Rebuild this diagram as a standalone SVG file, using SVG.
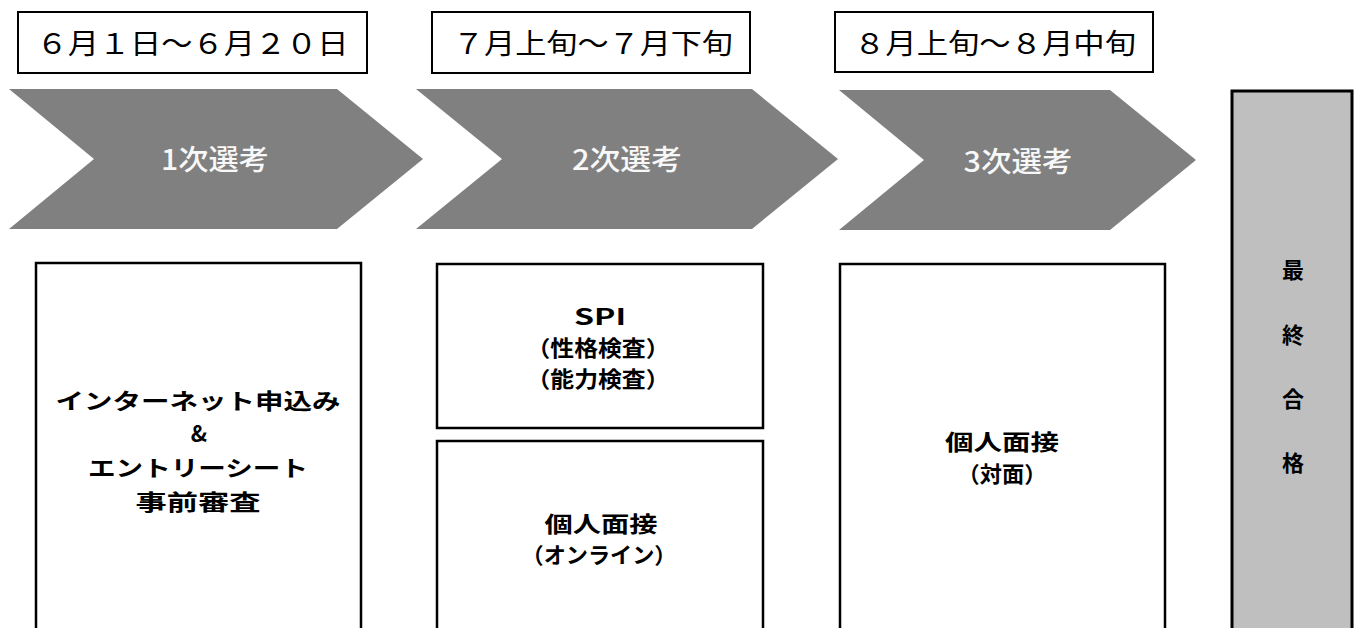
<svg xmlns="http://www.w3.org/2000/svg" width="1357" height="628" viewBox="0 0 1357 628">
<style>
.date{fill:#fff;stroke:#000;stroke-width:2}
.dt{font-family:"Noto Sans CJK JP","Noto Sans",sans-serif;font-size:28px;fill:#000;text-anchor:middle}
.chev{fill:#808080}
.ct{font-family:"Noto Sans CJK JP","Noto Sans",sans-serif;font-size:28px;font-weight:500;fill:#f8f8f8;text-anchor:middle}
.box{fill:#fff;stroke:#000;stroke-width:2.5}
.bt{font-family:"Noto Sans CJK JP","Noto Sans",sans-serif;font-size:22px;font-weight:700;fill:#000;text-anchor:middle}
.final{fill:#bfbfbf;stroke:#000;stroke-width:3}
</style>
<rect width="1357" height="628" fill="#fff"/>
<g id="date1"><rect class="date" x="18" y="12" width="349" height="61"/><text class="dt" x="192.5" y="54" textLength="312" lengthAdjust="spacingAndGlyphs">６月１日～６月２０日</text></g>
<g id="date2"><rect class="date" x="432" y="12" width="318" height="61"/><text class="dt" x="593" y="54" textLength="280" lengthAdjust="spacingAndGlyphs">７月上旬～７月下旬</text></g>
<g id="date3"><rect class="date" x="835" y="12" width="318" height="60"/><text class="dt" x="995" y="54" textLength="282" lengthAdjust="spacingAndGlyphs">８月上旬～８月中旬</text></g>
<g id="stage1"><polygon class="chev" points="9,89 337,89 423,159 337,229 9,229 94,159"/><text class="ct" x="215" y="170" textLength="108" lengthAdjust="spacingAndGlyphs">1次選考</text></g>
<g id="stage2"><polygon class="chev" points="416,89 752,89 838,159 752,229 416,229 502,159"/><text class="ct" x="627" y="170" textLength="110" lengthAdjust="spacingAndGlyphs">2次選考</text></g>
<g id="stage3"><polygon class="chev" points="839,90 1110,90 1196,160 1110,230 839,230 924,160"/><text class="ct" x="1018" y="172" textLength="109" lengthAdjust="spacingAndGlyphs">3次選考</text></g>
<g id="step1"><rect class="box" x="36" y="263" width="325" height="400"/>
<text class="bt" x="198" y="409" textLength="285" lengthAdjust="spacingAndGlyphs">インターネット申込み</text>
<text class="bt" x="199" y="442">&amp;</text>
<text class="bt" x="198" y="476" textLength="220" lengthAdjust="spacingAndGlyphs">エントリーシート</text>
<text class="bt" x="198" y="510" textLength="125" lengthAdjust="spacingAndGlyphs">事前審査</text></g>
<g id="step2a"><rect class="box" x="437" y="264" width="326" height="164"/>
<text class="bt" x="600" y="325" textLength="52" lengthAdjust="spacingAndGlyphs">SPI</text>
<text class="bt" x="598" y="356" textLength="143" lengthAdjust="spacingAndGlyphs">（性格検査）</text>
<text class="bt" x="598" y="387" textLength="143" lengthAdjust="spacingAndGlyphs">（能力検査）</text></g>
<g id="step2b"><rect class="box" x="437" y="441" width="326" height="220"/>
<text class="bt" x="601" y="532" textLength="113" lengthAdjust="spacingAndGlyphs">個人面接</text>
<text class="bt" x="599" y="563" textLength="155" lengthAdjust="spacingAndGlyphs">（オンライン）</text></g>
<g id="step3"><rect class="box" x="840" y="264" width="325" height="400"/>
<text class="bt" x="1002" y="450" textLength="114" lengthAdjust="spacingAndGlyphs">個人面接</text>
<text class="bt" x="1002" y="482" textLength="89" lengthAdjust="spacingAndGlyphs">（対面）</text></g>
<g id="final"><rect class="final" x="1232" y="91" width="120" height="600"/>
<text class="bt" x="1293" y="278" font-size="21">最</text>
<text class="bt" x="1293" y="343" font-size="21">終</text>
<text class="bt" x="1293" y="407" font-size="21">合</text>
<text class="bt" x="1293" y="471" font-size="21">格</text></g>
<g id="connectors"></g>
</svg>
